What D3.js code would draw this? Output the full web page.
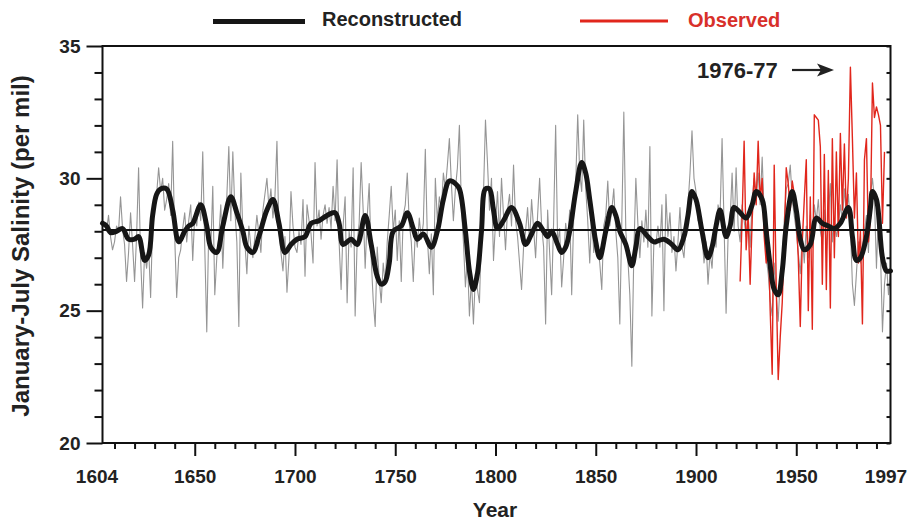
<!DOCTYPE html>
<html>
<head>
<meta charset="utf-8">
<script src="https://cdn.jsdelivr.net/npm/d3@7/dist/d3.min.js"></script>
<style>
  html, body { margin: 0; padding: 0; background: #fff; }
  svg { display: block; }
  text { font-family: "Liberation Sans", Arial, Helvetica, sans-serif; font-weight: bold; fill: #222; }
</style>
</head>
<body>
<svg id="chart" width="910" height="522"></svg>
<script>
// ---------------- DATA ----------------
const reconStart = 1604;
// Annual reconstructed January-July salinity (per mil), 1604-1997
const reconstructed = [
  28.4, 28.3, 28.0, 28.6, 27.8, 27.3,                         // 1604-1609
  27.6, 28.2, 28.0, 29.3, 28.1, 27.5, 26.1, 27.2, 28.7, 27.5, // 1610s
  26.1, 27.8, 30.4, 27.0, 25.1, 27.2, 26.6, 27.4, 25.5, 28.3, // 1620s
  28.8, 29.4, 30.4, 29.5, 30.0, 28.8, 29.2, 29.8, 28.6, 31.4, // 1630s
  27.8, 25.5, 27.0, 27.3, 28.1, 28.7, 27.6, 28.4, 29.0, 26.9, // 1640s
  28.6, 28.2, 29.1, 28.4, 31.0, 27.4, 24.2, 28.1, 27.3, 29.7, // 1650s
  25.6, 27.0, 27.8, 29.0, 26.6, 28.5, 29.3, 31.2, 28.4, 31.0, // 1660s
  28.8, 27.6, 24.4, 30.2, 28.0, 27.6, 26.4, 28.2, 27.4, 27.0, // 1670s
  27.8, 28.6, 27.9, 27.2, 28.8, 29.4, 30.0, 28.9, 29.6, 28.5, // 1680s
  29.3, 31.4, 28.0, 27.2, 26.5, 27.8, 25.7, 27.0, 29.5, 28.2, // 1690s
  27.4, 27.2, 28.0, 27.5, 29.2, 26.3, 29.0, 28.4, 27.9, 26.8, // 1700s
  30.6, 28.2, 28.8, 27.7, 28.6, 29.0, 28.3, 28.9, 28.1, 29.7, // 1710s
  28.4, 30.7, 27.6, 25.8, 28.2, 29.3, 25.3, 28.0, 27.4, 30.4, // 1720s
  24.8, 27.6, 28.3, 30.6, 28.8, 26.6, 28.5, 29.8, 27.0, 25.4, // 1730s
  24.4, 27.4, 26.2, 25.3, 26.8, 26.0, 27.6, 28.6, 29.7, 28.0, // 1740s
  28.8, 26.9, 28.4, 26.1, 28.6, 29.0, 30.2, 28.3, 27.6, 26.1, // 1750s
  28.0, 27.4, 28.5, 27.7, 28.3, 31.1, 27.8, 26.4, 27.9, 25.6, // 1760s
  30.0, 28.4, 29.3, 28.8, 30.2, 29.6, 30.5, 31.5, 29.8, 28.4, // 1770s
  29.6, 30.4, 32.0, 28.9, 27.6, 25.9, 27.0, 24.8, 26.2, 24.5, // 1780s
  26.4, 25.8, 25.3, 28.0, 29.4, 32.2, 30.6, 28.8, 30.0, 26.9, // 1790s
  28.3, 29.5, 27.8, 30.0, 28.6, 27.3, 28.8, 29.4, 28.2, 30.5, // 1800s
  28.4, 27.8, 26.8, 25.8, 27.4, 28.0, 28.9, 27.6, 29.2, 28.1, // 1810s
  27.0, 28.6, 30.0, 28.2, 27.4, 24.5, 28.8, 27.2, 25.6, 28.4, // 1820s
  32.0, 27.5, 28.1, 25.9, 27.0, 28.3, 27.6, 28.8, 25.6, 28.5, // 1830s
  29.8, 32.4, 30.2, 29.5, 32.2, 29.6, 28.4, 26.8, 28.6, 27.2, // 1840s
  28.0, 27.4, 26.8, 25.8, 28.2, 28.6, 29.9, 28.2, 28.8, 29.6, // 1850s
  28.0, 27.0, 24.5, 28.4, 32.5, 28.0, 27.0, 25.6, 22.9, 27.2, // 1860s
  30.0, 28.3, 27.0, 28.4, 27.6, 28.8, 27.4, 31.2, 24.8, 27.6, // 1870s
  27.5, 28.2, 27.4, 29.0, 25.0, 29.4, 27.8, 28.7, 27.2, 27.8, // 1880s
  26.5, 27.6, 28.9, 27.4, 27.0, 28.2, 29.0, 30.2, 31.8, 30.0, // 1890s
  29.5, 28.4, 28.8, 27.8, 26.8, 27.6, 26.0, 27.2, 26.6, 28.0, // 1900s
  27.4, 29.0, 28.6, 31.5, 28.2, 24.9, 27.8, 28.4, 30.2, 28.0, // 1910s
  30.4, 28.2, 27.6, 29.0, 28.4, 27.8, 28.6, 27.4, 29.2, 30.0, // 1920s
  29.4, 30.2, 29.0, 30.8, 28.6, 27.0, 26.4, 25.4, 24.8, 26.8, // 1930s
  25.6, 24.6, 26.2, 27.0, 28.4, 29.6, 29.8, 30.5, 29.2, 28.6, // 1940s
  28.0, 27.2, 26.4, 27.8, 26.8, 28.2, 27.0, 28.6, 27.4, 29.0, // 1950s
  28.4, 29.2, 28.0, 27.6, 28.8, 27.2, 28.6, 29.8, 27.6, 28.4, // 1960s
  27.8, 28.2, 29.0, 28.4, 29.6, 28.6, 29.4, 28.2, 26.0, 25.2, // 1970s
  26.4, 27.6, 26.8, 27.4, 28.0, 28.6, 27.2, 29.4, 30.0, 29.2, // 1980s
  26.6, 28.8, 27.2, 24.2, 26.0, 26.8, 25.6, 26.4              // 1990-1997
];

const observedStart = 1922;
// Annual observed salinity, 1922-1994
const observed = [
  26.1, 28.5, 31.4, 27.3, 28.6, 26.0, 28.4, 30.2,             // 1922-1929
  29.0, 31.4, 29.2, 30.0, 27.8, 26.8, 28.0, 25.0, 22.6, 30.5, // 1930s
  26.0, 22.4, 24.0, 25.3, 27.6, 30.4, 29.8, 28.8, 29.9, 29.4, // 1940s
  28.5, 27.0, 24.4, 27.6, 29.2, 30.7, 25.0, 29.3, 24.3, 32.4, // 1950s
  32.3, 32.2, 31.2, 26.0, 30.9, 25.8, 30.3, 25.1, 31.5, 27.0, // 1960s
  31.0, 27.8, 31.7, 28.8, 31.3, 28.5, 30.0, 34.2, 31.5, 28.5, // 1970s
  30.2, 26.8, 28.0, 24.5, 30.7, 31.5, 27.6, 28.5, 33.6, 32.3, // 1980s
  32.7, 32.4, 32.0, 28.3, 31.0                                // 1990-1994
];

// Smoothed reconstruction (low-pass), read at these years
const smoothYears = [
  1604, 1606, 1608, 1611, 1614, 1617, 1620, 1622, 1625, 1627, 1629, 1631, 1633, 1636, 1639,
  1642, 1645, 1647, 1649, 1653, 1656, 1658, 1661, 1664, 1668, 1671, 1674, 1676, 1679, 1682,
  1686, 1689, 1692, 1695, 1698, 1701, 1705, 1708, 1712, 1716, 1720, 1722, 1724, 1728, 1731,
  1735, 1738, 1741, 1743, 1745, 1747, 1749, 1753, 1756, 1759, 1761, 1764, 1768, 1771, 1774,
  1777, 1780, 1782, 1785, 1787, 1789, 1791, 1793, 1795, 1797, 1799, 1801, 1804, 1808, 1812,
  1815, 1818, 1821, 1824, 1826, 1828, 1831, 1833, 1835, 1837, 1840, 1843, 1845, 1847, 1850,
  1852, 1855, 1858, 1860, 1862, 1865, 1868, 1870, 1872, 1876, 1879, 1884, 1888, 1891, 1894,
  1896, 1898, 1900, 1903, 1906, 1908, 1910, 1912, 1915, 1917, 1919, 1922, 1925, 1928, 1930,
  1933, 1935, 1937, 1939, 1941, 1943, 1945, 1948, 1950, 1952, 1954, 1957, 1960, 1963, 1966,
  1969, 1972, 1976, 1978, 1980, 1982, 1985, 1987, 1988, 1990, 1993, 1995, 1997
];
const smoothValues = [
  28.3, 28.2, 27.95, 28.0, 28.1, 27.7, 27.7, 27.8, 26.9, 27.1, 28.6, 29.4, 29.6, 29.6, 28.8,
  27.6, 28.0, 28.2, 28.3, 29.0, 28.2, 27.4, 27.2, 28.2, 29.3, 28.7, 28.0, 27.4, 27.2, 27.8,
  28.8, 29.2, 28.3, 27.2, 27.5, 27.7, 27.8, 28.3, 28.4, 28.6, 28.7, 28.3, 27.5, 27.7, 27.5,
  28.6, 27.5, 26.3, 26.0, 26.1, 26.8, 28.0, 28.2, 28.7, 28.1, 27.7, 27.9, 27.4, 28.0, 29.2,
  29.9, 29.8, 29.6, 28.0, 26.5, 25.8, 26.4, 28.0, 29.6, 29.6, 28.8, 28.1, 28.4, 28.9, 28.3,
  27.5, 27.9, 28.3, 28.0, 27.8, 28.0, 27.5, 27.2, 27.4, 28.0, 29.5, 30.6, 30.2, 29.2, 27.6,
  27.0, 28.0, 28.9, 28.6, 28.0, 27.5, 26.7, 27.4, 28.1, 27.8, 27.6, 27.7, 27.5, 27.3, 27.8,
  28.6, 29.5, 29.2, 28.0, 27.0, 27.4, 28.2, 28.8, 27.8, 28.2, 28.9, 28.7, 28.5, 29.0, 29.5,
  29.2, 28.0, 26.7, 25.8, 25.6, 26.5, 28.2, 29.5, 28.8, 27.7, 27.3, 27.5, 28.5, 28.3, 28.2,
  28.1, 28.3, 28.9, 27.8, 26.9, 27.0, 27.8, 28.9, 29.5, 29.2, 27.0, 26.5, 26.5
];

const meanSalinity = 28.05;
const xTickLabels = [1604, 1650, 1700, 1750, 1800, 1850, 1900, 1950, 1997];
const xMinorTicks = [1610, 1620, 1630, 1640, 1660, 1670, 1680, 1690, 1710, 1720, 1730, 1740,
  1760, 1770, 1780, 1790, 1810, 1820, 1830, 1840, 1860, 1870, 1880, 1890, 1910, 1920, 1930,
  1940, 1960, 1970, 1980, 1990];
const yTickLabels = [20, 25, 30, 35];
const yMinorTicks = [21, 22, 23, 24, 26, 27, 28, 29, 31, 32, 33, 34];
const legendLabels = ["Reconstructed", "Observed"];
const annotationText = "1976-77";

// ---------------- CHART ----------------
const svg = d3.select("#chart");
const mLeft = 102.5, mRight = 890.5, mTop = 46, mBottom = 443;

const x = d3.scaleLinear().domain([1604, 1997]).range([mLeft, mRight]);
const y = d3.scaleLinear().domain([20, 35]).range([mBottom, mTop]);

const reconData = reconstructed.map((v, i) => ({ year: reconStart + i, v }));
const obsData = observed.map((v, i) => ({ year: observedStart + i, v }));
const smoothData = smoothYears.map((yr, i) => ({ year: yr, v: smoothValues[i] }));

const line = d3.line().x(d => x(d.year)).y(d => y(d.v));
const smoothLine = d3.line().x(d => x(d.year)).y(d => y(d.v)).curve(d3.curveCatmullRom.alpha(0.5));

// annual reconstruction (thin gray)
svg.append("path").datum(reconData)
  .attr("d", line)
  .attr("fill", "none").attr("stroke", "#959595").attr("stroke-width", 1.1)
  .attr("stroke-linejoin", "round");

// observed (red)
svg.append("path").datum(obsData)
  .attr("d", line)
  .attr("fill", "none").attr("stroke", "#e1261c").attr("stroke-width", 1.4)
  .attr("stroke-linejoin", "round");

// mean line
svg.append("line")
  .attr("x1", x(1604)).attr("x2", x(1997))
  .attr("y1", y(meanSalinity)).attr("y2", y(meanSalinity))
  .attr("stroke", "#111").attr("stroke-width", 2);

// smoothed (thick black)
svg.append("path").datum(smoothData)
  .attr("d", smoothLine)
  .attr("fill", "none").attr("stroke", "#161616").attr("stroke-width", 5)
  .attr("stroke-linejoin", "round").attr("stroke-linecap", "round");

// frame
svg.append("rect")
  .attr("x", mLeft).attr("y", mTop).attr("width", mRight - mLeft).attr("height", mBottom - mTop)
  .attr("fill", "none").attr("stroke", "#111").attr("stroke-width", 2);

function styleAxis(g) {
  g.select(".domain").remove();
  g.selectAll(".tick line").attr("stroke", "#111").attr("stroke-width", 2);
  g.selectAll("text").style("font-size", "19px").style("font-weight", "bold").attr("fill", "#222");
}

// y axis major
svg.append("g").attr("transform", `translate(${mLeft},0)`)
  .call(d3.axisLeft(y).tickValues(yTickLabels).tickSize(16).tickPadding(6).tickFormat(d3.format("d")))
  .call(styleAxis);
// y axis minor
svg.append("g").attr("transform", `translate(${mLeft},0)`)
  .call(d3.axisLeft(y).tickValues(yMinorTicks).tickSize(8).tickFormat(""))
  .call(styleAxis);
// right axis inward ticks
svg.append("g").attr("transform", `translate(${mRight},0)`)
  .call(d3.axisLeft(y).tickValues(yMinorTicks.concat(yTickLabels)).tickSize(4).tickFormat(""))
  .call(styleAxis);

// x axis major
svg.append("g").attr("transform", `translate(0,${mBottom})`)
  .call(d3.axisBottom(x).tickValues(xTickLabels).tickSize(13).tickPadding(6).tickFormat(d3.format("d")))
  .call(styleAxis)
  .call(g => g.selectAll(".tick").filter(d => d === 1604 || d === 1997).select("line").remove())
  .call(g => g.selectAll("text").attr("dy", "1.1em"))
  .call(g => g.selectAll(".tick").filter(d => d === 1604).select("text").attr("dx", -6))
  .call(g => g.selectAll(".tick").filter(d => d === 1997).select("text").attr("dx", -5));
// x axis minor
svg.append("g").attr("transform", `translate(0,${mBottom})`)
  .call(d3.axisBottom(x).tickValues(xMinorTicks).tickSize(6).tickFormat(""))
  .call(styleAxis);

// axis titles
svg.append("text")
  .attr("x", 495).attr("y", 517).attr("text-anchor", "middle")
  .style("font-size", "21px").text("Year");
svg.append("text")
  .attr("transform", "translate(29,246) rotate(-90)")
  .attr("text-anchor", "middle")
  .style("font-size", "24px").text("January-July Salinity (per mil)");

// legend
svg.append("line").attr("x1", 213).attr("x2", 305).attr("y1", 21.5).attr("y2", 21.5)
  .attr("stroke", "#161616").attr("stroke-width", 5);
svg.append("text").attr("x", 322).attr("y", 26).style("font-size", "20px").text(legendLabels[0]);
svg.append("line").attr("x1", 580).attr("x2", 668).attr("y1", 21).attr("y2", 21)
  .attr("stroke", "#e1261c").attr("stroke-width", 3);
svg.append("text").attr("x", 688).attr("y", 27).style("font-size", "20px")
  .style("fill", "#d8302a").text(legendLabels[1]);

// annotation
svg.append("text").attr("x", 697).attr("y", 78).style("font-size", "22px").text(annotationText);
svg.append("line").attr("x1", 792).attr("x2", 822).attr("y1", 70).attr("y2", 70)
  .attr("stroke", "#222").attr("stroke-width", 2.2);
svg.append("path").attr("d", "M817,63.5 L834,70 L817,76.5 L821,70 Z").attr("fill", "#222");
</script>
</body>
</html>
